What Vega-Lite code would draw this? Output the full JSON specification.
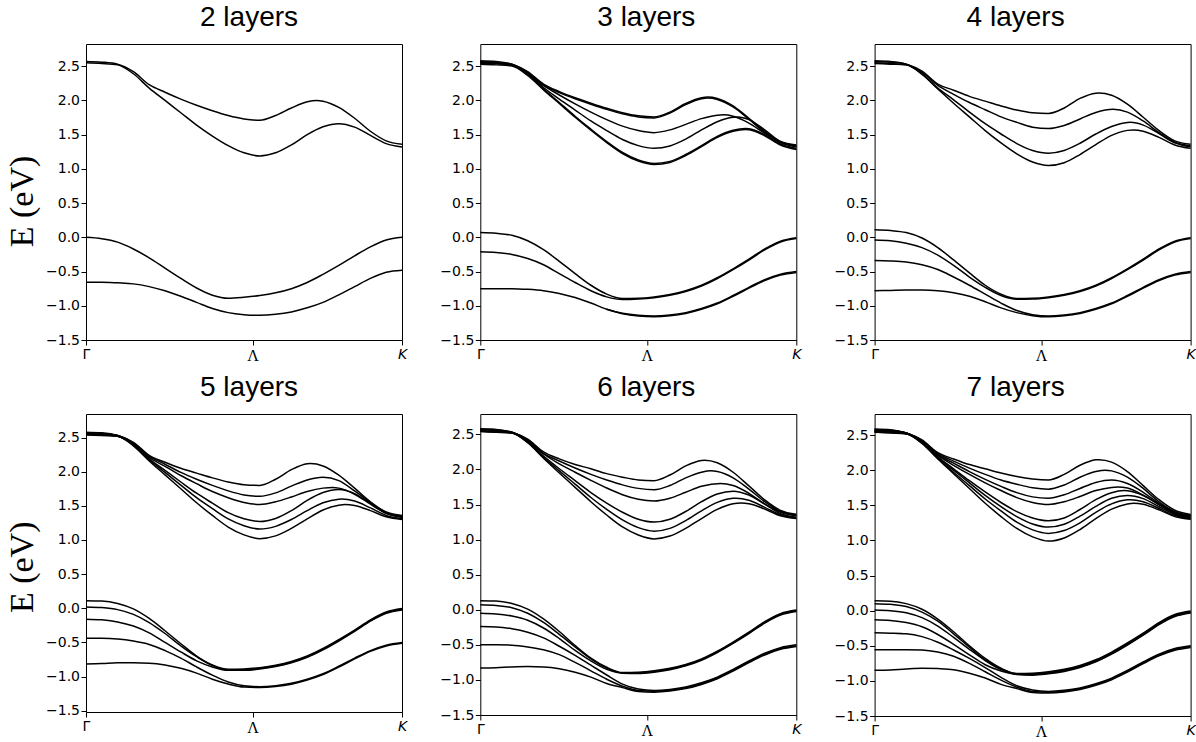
{
"$schema": "https://vega.github.io/schema/vega-lite/v6.json",
"background": "white",
"padding": {"left": 5, "top": 3, "right": 0, "bottom": 2},
"config": {
  "view": {"stroke": "#000", "strokeWidth": 1},
  "axis": {"grid": false, "domain": false, "tickColor": "#000", "tickWidth": 1, "tickSize": 5, "labelColor": "#000", "labelFont": "DejaVu Sans", "labelFontSize": 14, "titleColor": "#000"},
  "title": {"font": "Liberation Sans", "fontSize": 28, "fontWeight": "normal", "color": "#000", "anchor": "middle", "baseline": "alphabetic"},
  "line": {"color": "#000", "strokeWidth": 1.5, "interpolate": "monotone"}
},
"data": {"values": [
{"l":2,"b":"c1","x":0,"y":2.57},{"l":2,"b":"c1","x":0.05,"y":2.56},{"l":2,"b":"c1","x":0.1,"y":2.53},{"l":2,"b":"c1","x":0.15,"y":2.42},{"l":2,"b":"c1","x":0.2,"y":2.23},{"l":2,"b":"c1","x":0.25,"y":2.12},{"l":2,"b":"c1","x":0.3,"y":2.02},{"l":2,"b":"c1","x":0.35,"y":1.93},{"l":2,"b":"c1","x":0.4,"y":1.85},{"l":2,"b":"c1","x":0.45,"y":1.78},{"l":2,"b":"c1","x":0.5,"y":1.73},{"l":2,"b":"c1","x":0.55,"y":1.71},{"l":2,"b":"c1","x":0.6,"y":1.78},{"l":2,"b":"c1","x":0.65,"y":1.89},{"l":2,"b":"c1","x":0.7,"y":1.98},{"l":2,"b":"c1","x":0.73,"y":2.0},{"l":2,"b":"c1","x":0.75,"y":1.99},{"l":2,"b":"c1","x":0.8,"y":1.9},{"l":2,"b":"c1","x":0.85,"y":1.74},{"l":2,"b":"c1","x":0.9,"y":1.55},{"l":2,"b":"c1","x":0.95,"y":1.41},{"l":2,"b":"c1","x":1,"y":1.36},
{"l":2,"b":"c2","x":0,"y":2.55},{"l":2,"b":"c2","x":0.05,"y":2.54},{"l":2,"b":"c2","x":0.1,"y":2.52},{"l":2,"b":"c2","x":0.15,"y":2.39},{"l":2,"b":"c2","x":0.2,"y":2.18},{"l":2,"b":"c2","x":0.25,"y":2.0},{"l":2,"b":"c2","x":0.3,"y":1.82},{"l":2,"b":"c2","x":0.35,"y":1.64},{"l":2,"b":"c2","x":0.4,"y":1.48},{"l":2,"b":"c2","x":0.45,"y":1.34},{"l":2,"b":"c2","x":0.5,"y":1.235},{"l":2,"b":"c2","x":0.55,"y":1.19},{"l":2,"b":"c2","x":0.6,"y":1.235},{"l":2,"b":"c2","x":0.65,"y":1.35},{"l":2,"b":"c2","x":0.7,"y":1.5},{"l":2,"b":"c2","x":0.75,"y":1.615},{"l":2,"b":"c2","x":0.8,"y":1.66},{"l":2,"b":"c2","x":0.85,"y":1.61},{"l":2,"b":"c2","x":0.9,"y":1.49},{"l":2,"b":"c2","x":0.95,"y":1.37},{"l":2,"b":"c2","x":1,"y":1.32},
{"l":2,"b":"v1","x":0,"y":0},{"l":2,"b":"v1","x":0.05,"y":-0.02},{"l":2,"b":"v1","x":0.1,"y":-0.07},{"l":2,"b":"v1","x":0.15,"y":-0.17},{"l":2,"b":"v1","x":0.2,"y":-0.3},{"l":2,"b":"v1","x":0.25,"y":-0.45},{"l":2,"b":"v1","x":0.3,"y":-0.6},{"l":2,"b":"v1","x":0.35,"y":-0.74},{"l":2,"b":"v1","x":0.4,"y":-0.845},{"l":2,"b":"v1","x":0.45,"y":-0.89},{"l":2,"b":"v1","x":0.5,"y":-0.875},{"l":2,"b":"v1","x":0.55,"y":-0.85},{"l":2,"b":"v1","x":0.6,"y":-0.81},{"l":2,"b":"v1","x":0.65,"y":-0.75},{"l":2,"b":"v1","x":0.7,"y":-0.66},{"l":2,"b":"v1","x":0.75,"y":-0.54},{"l":2,"b":"v1","x":0.8,"y":-0.41},{"l":2,"b":"v1","x":0.85,"y":-0.27},{"l":2,"b":"v1","x":0.9,"y":-0.14},{"l":2,"b":"v1","x":0.95,"y":-0.04},{"l":2,"b":"v1","x":1,"y":0},
{"l":2,"b":"v2","x":0,"y":-0.655},{"l":2,"b":"v2","x":0.05,"y":-0.655},{"l":2,"b":"v2","x":0.1,"y":-0.665},{"l":2,"b":"v2","x":0.15,"y":-0.68},{"l":2,"b":"v2","x":0.2,"y":-0.72},{"l":2,"b":"v2","x":0.25,"y":-0.78},{"l":2,"b":"v2","x":0.3,"y":-0.86},{"l":2,"b":"v2","x":0.35,"y":-0.95},{"l":2,"b":"v2","x":0.4,"y":-1.04},{"l":2,"b":"v2","x":0.45,"y":-1.1},{"l":2,"b":"v2","x":0.5,"y":-1.13},{"l":2,"b":"v2","x":0.55,"y":-1.14},{"l":2,"b":"v2","x":0.6,"y":-1.125},{"l":2,"b":"v2","x":0.65,"y":-1.09},{"l":2,"b":"v2","x":0.7,"y":-1.03},{"l":2,"b":"v2","x":0.75,"y":-0.95},{"l":2,"b":"v2","x":0.8,"y":-0.84},{"l":2,"b":"v2","x":0.85,"y":-0.72},{"l":2,"b":"v2","x":0.9,"y":-0.6},{"l":2,"b":"v2","x":0.95,"y":-0.51},{"l":2,"b":"v2","x":1,"y":-0.48},

{"l":3,"b":"c1","x":0,"y":2.58},{"l":3,"b":"c1","x":0.05,"y":2.57},{"l":3,"b":"c1","x":0.1,"y":2.53},{"l":3,"b":"c1","x":0.15,"y":2.42},{"l":3,"b":"c1","x":0.2,"y":2.24},{"l":3,"b":"c1","x":0.25,"y":2.13},{"l":3,"b":"c1","x":0.3,"y":2.04},{"l":3,"b":"c1","x":0.35,"y":1.96},{"l":3,"b":"c1","x":0.4,"y":1.885},{"l":3,"b":"c1","x":0.45,"y":1.82},{"l":3,"b":"c1","x":0.5,"y":1.775},{"l":3,"b":"c1","x":0.55,"y":1.76},{"l":3,"b":"c1","x":0.6,"y":1.83},{"l":3,"b":"c1","x":0.65,"y":1.955},{"l":3,"b":"c1","x":0.7,"y":2.04},{"l":3,"b":"c1","x":0.72,"y":2.05},{"l":3,"b":"c1","x":0.75,"y":2.03},{"l":3,"b":"c1","x":0.8,"y":1.92},{"l":3,"b":"c1","x":0.85,"y":1.74},{"l":3,"b":"c1","x":0.9,"y":1.55},{"l":3,"b":"c1","x":0.95,"y":1.4},{"l":3,"b":"c1","x":1,"y":1.35},
{"l":3,"b":"c1d","x":0,"y":2.565},{"l":3,"b":"c1d","x":0.05,"y":2.555},{"l":3,"b":"c1d","x":0.1,"y":2.515},{"l":3,"b":"c1d","x":0.15,"y":2.405},{"l":3,"b":"c1d","x":0.2,"y":2.225},{"l":3,"b":"c1d","x":0.25,"y":2.115},{"l":3,"b":"c1d","x":0.3,"y":2.025},{"l":3,"b":"c1d","x":0.35,"y":1.945},{"l":3,"b":"c1d","x":0.4,"y":1.87},{"l":3,"b":"c1d","x":0.45,"y":1.805},{"l":3,"b":"c1d","x":0.5,"y":1.76},{"l":3,"b":"c1d","x":0.55,"y":1.745},{"l":3,"b":"c1d","x":0.6,"y":1.815},{"l":3,"b":"c1d","x":0.65,"y":1.94},{"l":3,"b":"c1d","x":0.7,"y":2.025},{"l":3,"b":"c1d","x":0.72,"y":2.035},{"l":3,"b":"c1d","x":0.75,"y":2.015},{"l":3,"b":"c1d","x":0.8,"y":1.905},{"l":3,"b":"c1d","x":0.85,"y":1.725},{"l":3,"b":"c1d","x":0.9,"y":1.535},{"l":3,"b":"c1d","x":0.95,"y":1.385},{"l":3,"b":"c1d","x":1,"y":1.335},
{"l":3,"b":"c2","x":0,"y":2.565},{"l":3,"b":"c2","x":0.05,"y":2.555},{"l":3,"b":"c2","x":0.1,"y":2.53},{"l":3,"b":"c2","x":0.15,"y":2.41},{"l":3,"b":"c2","x":0.2,"y":2.22},{"l":3,"b":"c2","x":0.25,"y":2.08},{"l":3,"b":"c2","x":0.3,"y":1.95},{"l":3,"b":"c2","x":0.35,"y":1.83},{"l":3,"b":"c2","x":0.4,"y":1.72},{"l":3,"b":"c2","x":0.45,"y":1.625},{"l":3,"b":"c2","x":0.5,"y":1.56},{"l":3,"b":"c2","x":0.55,"y":1.53},{"l":3,"b":"c2","x":0.6,"y":1.57},{"l":3,"b":"c2","x":0.65,"y":1.65},{"l":3,"b":"c2","x":0.7,"y":1.735},{"l":3,"b":"c2","x":0.75,"y":1.785},{"l":3,"b":"c2","x":0.77,"y":1.79},{"l":3,"b":"c2","x":0.8,"y":1.77},{"l":3,"b":"c2","x":0.85,"y":1.67},{"l":3,"b":"c2","x":0.9,"y":1.52},{"l":3,"b":"c2","x":0.95,"y":1.39},{"l":3,"b":"c2","x":1,"y":1.34},
{"l":3,"b":"c3","x":0,"y":2.555},{"l":3,"b":"c3","x":0.05,"y":2.545},{"l":3,"b":"c3","x":0.1,"y":2.52},{"l":3,"b":"c3","x":0.15,"y":2.4},{"l":3,"b":"c3","x":0.2,"y":2.19},{"l":3,"b":"c3","x":0.25,"y":2.02},{"l":3,"b":"c3","x":0.3,"y":1.86},{"l":3,"b":"c3","x":0.35,"y":1.7},{"l":3,"b":"c3","x":0.4,"y":1.56},{"l":3,"b":"c3","x":0.45,"y":1.43},{"l":3,"b":"c3","x":0.5,"y":1.34},{"l":3,"b":"c3","x":0.55,"y":1.3},{"l":3,"b":"c3","x":0.6,"y":1.335},{"l":3,"b":"c3","x":0.65,"y":1.435},{"l":3,"b":"c3","x":0.7,"y":1.57},{"l":3,"b":"c3","x":0.75,"y":1.69},{"l":3,"b":"c3","x":0.8,"y":1.755},{"l":3,"b":"c3","x":0.815,"y":1.76},{"l":3,"b":"c3","x":0.85,"y":1.72},{"l":3,"b":"c3","x":0.9,"y":1.57},{"l":3,"b":"c3","x":0.95,"y":1.395},{"l":3,"b":"c3","x":1,"y":1.32},
{"l":3,"b":"c4","x":0,"y":2.545},{"l":3,"b":"c4","x":0.05,"y":2.535},{"l":3,"b":"c4","x":0.1,"y":2.52},{"l":3,"b":"c4","x":0.15,"y":2.38},{"l":3,"b":"c4","x":0.2,"y":2.17},{"l":3,"b":"c4","x":0.25,"y":1.97},{"l":3,"b":"c4","x":0.3,"y":1.77},{"l":3,"b":"c4","x":0.35,"y":1.58},{"l":3,"b":"c4","x":0.4,"y":1.4},{"l":3,"b":"c4","x":0.45,"y":1.24},{"l":3,"b":"c4","x":0.5,"y":1.13},{"l":3,"b":"c4","x":0.55,"y":1.08},{"l":3,"b":"c4","x":0.6,"y":1.11},{"l":3,"b":"c4","x":0.65,"y":1.21},{"l":3,"b":"c4","x":0.7,"y":1.34},{"l":3,"b":"c4","x":0.75,"y":1.475},{"l":3,"b":"c4","x":0.8,"y":1.565},{"l":3,"b":"c4","x":0.84,"y":1.59},{"l":3,"b":"c4","x":0.85,"y":1.587},{"l":3,"b":"c4","x":0.9,"y":1.5},{"l":3,"b":"c4","x":0.95,"y":1.365},{"l":3,"b":"c4","x":1,"y":1.3},
{"l":3,"b":"c4d","x":0,"y":2.53},{"l":3,"b":"c4d","x":0.05,"y":2.52},{"l":3,"b":"c4d","x":0.1,"y":2.505},{"l":3,"b":"c4d","x":0.15,"y":2.365},{"l":3,"b":"c4d","x":0.2,"y":2.155},{"l":3,"b":"c4d","x":0.25,"y":1.955},{"l":3,"b":"c4d","x":0.3,"y":1.755},{"l":3,"b":"c4d","x":0.35,"y":1.565},{"l":3,"b":"c4d","x":0.4,"y":1.385},{"l":3,"b":"c4d","x":0.45,"y":1.225},{"l":3,"b":"c4d","x":0.5,"y":1.115},{"l":3,"b":"c4d","x":0.55,"y":1.065},{"l":3,"b":"c4d","x":0.6,"y":1.095},{"l":3,"b":"c4d","x":0.65,"y":1.195},{"l":3,"b":"c4d","x":0.7,"y":1.325},{"l":3,"b":"c4d","x":0.75,"y":1.46},{"l":3,"b":"c4d","x":0.8,"y":1.55},{"l":3,"b":"c4d","x":0.84,"y":1.575},{"l":3,"b":"c4d","x":0.85,"y":1.572},{"l":3,"b":"c4d","x":0.9,"y":1.485},{"l":3,"b":"c4d","x":0.95,"y":1.35},{"l":3,"b":"c4d","x":1,"y":1.285},
{"l":3,"b":"v1","x":0,"y":0.07},{"l":3,"b":"v1","x":0.05,"y":0.06},{"l":3,"b":"v1","x":0.1,"y":0.03},{"l":3,"b":"v1","x":0.15,"y":-0.05},{"l":3,"b":"v1","x":0.2,"y":-0.18},{"l":3,"b":"v1","x":0.25,"y":-0.35},{"l":3,"b":"v1","x":0.3,"y":-0.53},{"l":3,"b":"v1","x":0.35,"y":-0.7},{"l":3,"b":"v1","x":0.4,"y":-0.83},{"l":3,"b":"v1","x":0.45,"y":-0.895},{"l":3,"b":"v1","x":0.5,"y":-0.89},{"l":3,"b":"v1","x":0.55,"y":-0.87},{"l":3,"b":"v1","x":0.6,"y":-0.835},{"l":3,"b":"v1","x":0.65,"y":-0.78},{"l":3,"b":"v1","x":0.7,"y":-0.7},{"l":3,"b":"v1","x":0.75,"y":-0.59},{"l":3,"b":"v1","x":0.8,"y":-0.46},{"l":3,"b":"v1","x":0.85,"y":-0.32},{"l":3,"b":"v1","x":0.9,"y":-0.17},{"l":3,"b":"v1","x":0.95,"y":-0.055},{"l":3,"b":"v1","x":1,"y":-0.005},
{"l":3,"b":"v2","x":0,"y":-0.21},{"l":3,"b":"v2","x":0.05,"y":-0.22},{"l":3,"b":"v2","x":0.1,"y":-0.25},{"l":3,"b":"v2","x":0.15,"y":-0.31},{"l":3,"b":"v2","x":0.2,"y":-0.4},{"l":3,"b":"v2","x":0.25,"y":-0.53},{"l":3,"b":"v2","x":0.3,"y":-0.66},{"l":3,"b":"v2","x":0.35,"y":-0.78},{"l":3,"b":"v2","x":0.4,"y":-0.87},{"l":3,"b":"v2","x":0.45,"y":-0.91},{"l":3,"b":"v2","x":0.5,"y":-0.902},{"l":3,"b":"v2","x":0.55,"y":-0.882},{"l":3,"b":"v2","x":0.6,"y":-0.847},{"l":3,"b":"v2","x":0.65,"y":-0.792},{"l":3,"b":"v2","x":0.7,"y":-0.712},{"l":3,"b":"v2","x":0.75,"y":-0.602},{"l":3,"b":"v2","x":0.8,"y":-0.472},{"l":3,"b":"v2","x":0.85,"y":-0.332},{"l":3,"b":"v2","x":0.9,"y":-0.182},{"l":3,"b":"v2","x":0.95,"y":-0.067},{"l":3,"b":"v2","x":1,"y":-0.017},
{"l":3,"b":"v3","x":0,"y":-0.75},{"l":3,"b":"v3","x":0.05,"y":-0.75},{"l":3,"b":"v3","x":0.1,"y":-0.75},{"l":3,"b":"v3","x":0.15,"y":-0.76},{"l":3,"b":"v3","x":0.2,"y":-0.78},{"l":3,"b":"v3","x":0.25,"y":-0.82},{"l":3,"b":"v3","x":0.3,"y":-0.88},{"l":3,"b":"v3","x":0.35,"y":-0.96},{"l":3,"b":"v3","x":0.4,"y":-1.05},{"l":3,"b":"v3","x":0.45,"y":-1.11},{"l":3,"b":"v3","x":0.5,"y":-1.14},{"l":3,"b":"v3","x":0.55,"y":-1.15},{"l":3,"b":"v3","x":0.6,"y":-1.135},{"l":3,"b":"v3","x":0.65,"y":-1.1},{"l":3,"b":"v3","x":0.7,"y":-1.04},{"l":3,"b":"v3","x":0.75,"y":-0.96},{"l":3,"b":"v3","x":0.8,"y":-0.85},{"l":3,"b":"v3","x":0.85,"y":-0.73},{"l":3,"b":"v3","x":0.9,"y":-0.62},{"l":3,"b":"v3","x":0.95,"y":-0.54},{"l":3,"b":"v3","x":1,"y":-0.5},
{"l":3,"b":"v4","x":0.4,"y":-1.05},{"l":3,"b":"v4","x":0.45,"y":-1.115},{"l":3,"b":"v4","x":0.5,"y":-1.15},{"l":3,"b":"v4","x":0.55,"y":-1.162},{"l":3,"b":"v4","x":0.6,"y":-1.147},{"l":3,"b":"v4","x":0.65,"y":-1.112},{"l":3,"b":"v4","x":0.7,"y":-1.052},{"l":3,"b":"v4","x":0.75,"y":-0.972},{"l":3,"b":"v4","x":0.8,"y":-0.862},{"l":3,"b":"v4","x":0.85,"y":-0.742},{"l":3,"b":"v4","x":0.9,"y":-0.632},{"l":3,"b":"v4","x":0.95,"y":-0.552},{"l":3,"b":"v4","x":1,"y":-0.512},

{"l":4,"b":"c1","x":0,"y":2.58},{"l":4,"b":"c1","x":0.05,"y":2.57},{"l":4,"b":"c1","x":0.1,"y":2.53},{"l":4,"b":"c1","x":0.15,"y":2.43},{"l":4,"b":"c1","x":0.2,"y":2.24},{"l":4,"b":"c1","x":0.25,"y":2.15},{"l":4,"b":"c1","x":0.3,"y":2.06},{"l":4,"b":"c1","x":0.35,"y":1.99},{"l":4,"b":"c1","x":0.4,"y":1.92},{"l":4,"b":"c1","x":0.45,"y":1.86},{"l":4,"b":"c1","x":0.5,"y":1.82},{"l":4,"b":"c1","x":0.55,"y":1.81},{"l":4,"b":"c1","x":0.6,"y":1.89},{"l":4,"b":"c1","x":0.65,"y":2.03},{"l":4,"b":"c1","x":0.7,"y":2.107},{"l":4,"b":"c1","x":0.71,"y":2.11},{"l":4,"b":"c1","x":0.75,"y":2.075},{"l":4,"b":"c1","x":0.8,"y":1.945},{"l":4,"b":"c1","x":0.85,"y":1.755},{"l":4,"b":"c1","x":0.9,"y":1.56},{"l":4,"b":"c1","x":0.95,"y":1.41},{"l":4,"b":"c1","x":1,"y":1.36},
{"l":4,"b":"c2","x":0,"y":2.57},{"l":4,"b":"c2","x":0.05,"y":2.56},{"l":4,"b":"c2","x":0.1,"y":2.53},{"l":4,"b":"c2","x":0.15,"y":2.41},{"l":4,"b":"c2","x":0.2,"y":2.22},{"l":4,"b":"c2","x":0.25,"y":2.09},{"l":4,"b":"c2","x":0.3,"y":1.97},{"l":4,"b":"c2","x":0.35,"y":1.865},{"l":4,"b":"c2","x":0.4,"y":1.76},{"l":4,"b":"c2","x":0.45,"y":1.68},{"l":4,"b":"c2","x":0.5,"y":1.61},{"l":4,"b":"c2","x":0.55,"y":1.59},{"l":4,"b":"c2","x":0.6,"y":1.635},{"l":4,"b":"c2","x":0.65,"y":1.73},{"l":4,"b":"c2","x":0.7,"y":1.825},{"l":4,"b":"c2","x":0.755,"y":1.87},{"l":4,"b":"c2","x":0.8,"y":1.83},{"l":4,"b":"c2","x":0.85,"y":1.7},{"l":4,"b":"c2","x":0.9,"y":1.53},{"l":4,"b":"c2","x":0.95,"y":1.39},{"l":4,"b":"c2","x":1,"y":1.34},
{"l":4,"b":"c3","x":0,"y":2.55},{"l":4,"b":"c3","x":0.05,"y":2.54},{"l":4,"b":"c3","x":0.1,"y":2.52},{"l":4,"b":"c3","x":0.15,"y":2.39},{"l":4,"b":"c3","x":0.2,"y":2.18},{"l":4,"b":"c3","x":0.25,"y":2.01},{"l":4,"b":"c3","x":0.3,"y":1.83},{"l":4,"b":"c3","x":0.35,"y":1.66},{"l":4,"b":"c3","x":0.4,"y":1.51},{"l":4,"b":"c3","x":0.45,"y":1.37},{"l":4,"b":"c3","x":0.5,"y":1.27},{"l":4,"b":"c3","x":0.55,"y":1.23},{"l":4,"b":"c3","x":0.6,"y":1.27},{"l":4,"b":"c3","x":0.65,"y":1.375},{"l":4,"b":"c3","x":0.7,"y":1.51},{"l":4,"b":"c3","x":0.75,"y":1.62},{"l":4,"b":"c3","x":0.8,"y":1.678},{"l":4,"b":"c3","x":0.81,"y":1.68},{"l":4,"b":"c3","x":0.85,"y":1.64},{"l":4,"b":"c3","x":0.9,"y":1.515},{"l":4,"b":"c3","x":0.95,"y":1.38},{"l":4,"b":"c3","x":1,"y":1.32},
{"l":4,"b":"c4","x":0,"y":2.54},{"l":4,"b":"c4","x":0.05,"y":2.53},{"l":4,"b":"c4","x":0.1,"y":2.52},{"l":4,"b":"c4","x":0.15,"y":2.38},{"l":4,"b":"c4","x":0.2,"y":2.17},{"l":4,"b":"c4","x":0.25,"y":1.96},{"l":4,"b":"c4","x":0.3,"y":1.76},{"l":4,"b":"c4","x":0.35,"y":1.56},{"l":4,"b":"c4","x":0.4,"y":1.38},{"l":4,"b":"c4","x":0.45,"y":1.22},{"l":4,"b":"c4","x":0.5,"y":1.1},{"l":4,"b":"c4","x":0.55,"y":1.05},{"l":4,"b":"c4","x":0.6,"y":1.09},{"l":4,"b":"c4","x":0.65,"y":1.21},{"l":4,"b":"c4","x":0.7,"y":1.355},{"l":4,"b":"c4","x":0.75,"y":1.49},{"l":4,"b":"c4","x":0.8,"y":1.563},{"l":4,"b":"c4","x":0.82,"y":1.57},{"l":4,"b":"c4","x":0.85,"y":1.55},{"l":4,"b":"c4","x":0.9,"y":1.46},{"l":4,"b":"c4","x":0.95,"y":1.35},{"l":4,"b":"c4","x":1,"y":1.3},
{"l":4,"b":"v1","x":0,"y":0.11},{"l":4,"b":"v1","x":0.05,"y":0.1},{"l":4,"b":"v1","x":0.1,"y":0.07},{"l":4,"b":"v1","x":0.15,"y":-0.01},{"l":4,"b":"v1","x":0.2,"y":-0.15},{"l":4,"b":"v1","x":0.25,"y":-0.33},{"l":4,"b":"v1","x":0.3,"y":-0.52},{"l":4,"b":"v1","x":0.35,"y":-0.7},{"l":4,"b":"v1","x":0.4,"y":-0.83},{"l":4,"b":"v1","x":0.45,"y":-0.895},{"l":4,"b":"v1","x":0.5,"y":-0.89},{"l":4,"b":"v1","x":0.55,"y":-0.87},{"l":4,"b":"v1","x":0.6,"y":-0.835},{"l":4,"b":"v1","x":0.65,"y":-0.78},{"l":4,"b":"v1","x":0.7,"y":-0.7},{"l":4,"b":"v1","x":0.75,"y":-0.59},{"l":4,"b":"v1","x":0.8,"y":-0.46},{"l":4,"b":"v1","x":0.85,"y":-0.32},{"l":4,"b":"v1","x":0.9,"y":-0.17},{"l":4,"b":"v1","x":0.95,"y":-0.055},{"l":4,"b":"v1","x":1,"y":-0.005},
{"l":4,"b":"v2","x":0,"y":-0.04},{"l":4,"b":"v2","x":0.05,"y":-0.05},{"l":4,"b":"v2","x":0.1,"y":-0.085},{"l":4,"b":"v2","x":0.15,"y":-0.15},{"l":4,"b":"v2","x":0.2,"y":-0.26},{"l":4,"b":"v2","x":0.25,"y":-0.41},{"l":4,"b":"v2","x":0.3,"y":-0.58},{"l":4,"b":"v2","x":0.35,"y":-0.73},{"l":4,"b":"v2","x":0.4,"y":-0.85},{"l":4,"b":"v2","x":0.45,"y":-0.905},{"l":4,"b":"v2","x":0.5,"y":-0.902},{"l":4,"b":"v2","x":0.55,"y":-0.882},{"l":4,"b":"v2","x":0.6,"y":-0.847},{"l":4,"b":"v2","x":0.65,"y":-0.792},{"l":4,"b":"v2","x":0.7,"y":-0.712},{"l":4,"b":"v2","x":0.75,"y":-0.602},{"l":4,"b":"v2","x":0.8,"y":-0.472},{"l":4,"b":"v2","x":0.85,"y":-0.332},{"l":4,"b":"v2","x":0.9,"y":-0.182},{"l":4,"b":"v2","x":0.95,"y":-0.067},{"l":4,"b":"v2","x":1,"y":-0.017},
{"l":4,"b":"v3","x":0,"y":-0.34},{"l":4,"b":"v3","x":0.05,"y":-0.345},{"l":4,"b":"v3","x":0.1,"y":-0.36},{"l":4,"b":"v3","x":0.15,"y":-0.4},{"l":4,"b":"v3","x":0.2,"y":-0.47},{"l":4,"b":"v3","x":0.25,"y":-0.58},{"l":4,"b":"v3","x":0.3,"y":-0.7},{"l":4,"b":"v3","x":0.35,"y":-0.83},{"l":4,"b":"v3","x":0.4,"y":-0.96},{"l":4,"b":"v3","x":0.45,"y":-1.07},{"l":4,"b":"v3","x":0.5,"y":-1.13},{"l":4,"b":"v3","x":0.55,"y":-1.15},{"l":4,"b":"v3","x":0.6,"y":-1.135},{"l":4,"b":"v3","x":0.65,"y":-1.1},{"l":4,"b":"v3","x":0.7,"y":-1.04},{"l":4,"b":"v3","x":0.75,"y":-0.96},{"l":4,"b":"v3","x":0.8,"y":-0.85},{"l":4,"b":"v3","x":0.85,"y":-0.73},{"l":4,"b":"v3","x":0.9,"y":-0.62},{"l":4,"b":"v3","x":0.95,"y":-0.54},{"l":4,"b":"v3","x":1,"y":-0.5},
{"l":4,"b":"v4","x":0,"y":-0.78},{"l":4,"b":"v4","x":0.05,"y":-0.775},{"l":4,"b":"v4","x":0.1,"y":-0.77},{"l":4,"b":"v4","x":0.15,"y":-0.77},{"l":4,"b":"v4","x":0.2,"y":-0.78},{"l":4,"b":"v4","x":0.25,"y":-0.81},{"l":4,"b":"v4","x":0.3,"y":-0.86},{"l":4,"b":"v4","x":0.35,"y":-0.94},{"l":4,"b":"v4","x":0.4,"y":-1.03},{"l":4,"b":"v4","x":0.45,"y":-1.1},{"l":4,"b":"v4","x":0.5,"y":-1.145},{"l":4,"b":"v4","x":0.55,"y":-1.162},{"l":4,"b":"v4","x":0.6,"y":-1.147},{"l":4,"b":"v4","x":0.65,"y":-1.112},{"l":4,"b":"v4","x":0.7,"y":-1.052},{"l":4,"b":"v4","x":0.75,"y":-0.972},{"l":4,"b":"v4","x":0.8,"y":-0.862},{"l":4,"b":"v4","x":0.85,"y":-0.742},{"l":4,"b":"v4","x":0.9,"y":-0.632},{"l":4,"b":"v4","x":0.95,"y":-0.552},{"l":4,"b":"v4","x":1,"y":-0.512},

{"l":5,"b":"c1","x":0,"y":2.58},{"l":5,"b":"c1","x":0.05,"y":2.57},{"l":5,"b":"c1","x":0.1,"y":2.53},{"l":5,"b":"c1","x":0.15,"y":2.43},{"l":5,"b":"c1","x":0.2,"y":2.24},{"l":5,"b":"c1","x":0.25,"y":2.14},{"l":5,"b":"c1","x":0.3,"y":2.05},{"l":5,"b":"c1","x":0.35,"y":1.98},{"l":5,"b":"c1","x":0.4,"y":1.91},{"l":5,"b":"c1","x":0.45,"y":1.85},{"l":5,"b":"c1","x":0.5,"y":1.81},{"l":5,"b":"c1","x":0.55,"y":1.8},{"l":5,"b":"c1","x":0.6,"y":1.89},{"l":5,"b":"c1","x":0.65,"y":2.03},{"l":5,"b":"c1","x":0.7,"y":2.117},{"l":5,"b":"c1","x":0.71,"y":2.12},{"l":5,"b":"c1","x":0.75,"y":2.085},{"l":5,"b":"c1","x":0.8,"y":1.95},{"l":5,"b":"c1","x":0.85,"y":1.76},{"l":5,"b":"c1","x":0.9,"y":1.56},{"l":5,"b":"c1","x":0.95,"y":1.41},{"l":5,"b":"c1","x":1,"y":1.36},
{"l":5,"b":"c2","x":0,"y":2.57},{"l":5,"b":"c2","x":0.05,"y":2.56},{"l":5,"b":"c2","x":0.1,"y":2.53},{"l":5,"b":"c2","x":0.15,"y":2.42},{"l":5,"b":"c2","x":0.2,"y":2.23},{"l":5,"b":"c2","x":0.25,"y":2.11},{"l":5,"b":"c2","x":0.3,"y":1.99},{"l":5,"b":"c2","x":0.35,"y":1.89},{"l":5,"b":"c2","x":0.4,"y":1.8},{"l":5,"b":"c2","x":0.45,"y":1.72},{"l":5,"b":"c2","x":0.5,"y":1.66},{"l":5,"b":"c2","x":0.55,"y":1.64},{"l":5,"b":"c2","x":0.6,"y":1.69},{"l":5,"b":"c2","x":0.65,"y":1.79},{"l":5,"b":"c2","x":0.7,"y":1.88},{"l":5,"b":"c2","x":0.75,"y":1.92},{"l":5,"b":"c2","x":0.8,"y":1.87},{"l":5,"b":"c2","x":0.85,"y":1.72},{"l":5,"b":"c2","x":0.9,"y":1.55},{"l":5,"b":"c2","x":0.95,"y":1.4},{"l":5,"b":"c2","x":1,"y":1.35},
{"l":5,"b":"c3","x":0,"y":2.565},{"l":5,"b":"c3","x":0.05,"y":2.555},{"l":5,"b":"c3","x":0.1,"y":2.53},{"l":5,"b":"c3","x":0.15,"y":2.41},{"l":5,"b":"c3","x":0.2,"y":2.21},{"l":5,"b":"c3","x":0.25,"y":2.08},{"l":5,"b":"c3","x":0.3,"y":1.945},{"l":5,"b":"c3","x":0.35,"y":1.825},{"l":5,"b":"c3","x":0.4,"y":1.71},{"l":5,"b":"c3","x":0.45,"y":1.62},{"l":5,"b":"c3","x":0.5,"y":1.55},{"l":5,"b":"c3","x":0.55,"y":1.52},{"l":5,"b":"c3","x":0.6,"y":1.56},{"l":5,"b":"c3","x":0.65,"y":1.63},{"l":5,"b":"c3","x":0.7,"y":1.71},{"l":5,"b":"c3","x":0.75,"y":1.76},{"l":5,"b":"c3","x":0.78,"y":1.77},{"l":5,"b":"c3","x":0.8,"y":1.76},{"l":5,"b":"c3","x":0.85,"y":1.67},{"l":5,"b":"c3","x":0.9,"y":1.525},{"l":5,"b":"c3","x":0.95,"y":1.39},{"l":5,"b":"c3","x":1,"y":1.34},
{"l":5,"b":"c4","x":0,"y":2.555},{"l":5,"b":"c4","x":0.05,"y":2.545},{"l":5,"b":"c4","x":0.1,"y":2.52},{"l":5,"b":"c4","x":0.15,"y":2.4},{"l":5,"b":"c4","x":0.2,"y":2.19},{"l":5,"b":"c4","x":0.25,"y":2.02},{"l":5,"b":"c4","x":0.3,"y":1.85},{"l":5,"b":"c4","x":0.35,"y":1.685},{"l":5,"b":"c4","x":0.4,"y":1.54},{"l":5,"b":"c4","x":0.45,"y":1.4},{"l":5,"b":"c4","x":0.5,"y":1.31},{"l":5,"b":"c4","x":0.55,"y":1.27},{"l":5,"b":"c4","x":0.6,"y":1.315},{"l":5,"b":"c4","x":0.65,"y":1.43},{"l":5,"b":"c4","x":0.7,"y":1.58},{"l":5,"b":"c4","x":0.75,"y":1.695},{"l":5,"b":"c4","x":0.8,"y":1.74},{"l":5,"b":"c4","x":0.85,"y":1.68},{"l":5,"b":"c4","x":0.9,"y":1.535},{"l":5,"b":"c4","x":0.95,"y":1.39},{"l":5,"b":"c4","x":1,"y":1.33},
{"l":5,"b":"c5","x":0,"y":2.55},{"l":5,"b":"c5","x":0.05,"y":2.54},{"l":5,"b":"c5","x":0.1,"y":2.52},{"l":5,"b":"c5","x":0.15,"y":2.39},{"l":5,"b":"c5","x":0.2,"y":2.18},{"l":5,"b":"c5","x":0.25,"y":1.99},{"l":5,"b":"c5","x":0.3,"y":1.805},{"l":5,"b":"c5","x":0.35,"y":1.62},{"l":5,"b":"c5","x":0.4,"y":1.46},{"l":5,"b":"c5","x":0.45,"y":1.31},{"l":5,"b":"c5","x":0.5,"y":1.21},{"l":5,"b":"c5","x":0.55,"y":1.16},{"l":5,"b":"c5","x":0.6,"y":1.2},{"l":5,"b":"c5","x":0.65,"y":1.3},{"l":5,"b":"c5","x":0.7,"y":1.43},{"l":5,"b":"c5","x":0.75,"y":1.545},{"l":5,"b":"c5","x":0.8,"y":1.598},{"l":5,"b":"c5","x":0.81,"y":1.6},{"l":5,"b":"c5","x":0.85,"y":1.57},{"l":5,"b":"c5","x":0.9,"y":1.47},{"l":5,"b":"c5","x":0.95,"y":1.36},{"l":5,"b":"c5","x":1,"y":1.31},
{"l":5,"b":"c6","x":0,"y":2.54},{"l":5,"b":"c6","x":0.05,"y":2.53},{"l":5,"b":"c6","x":0.1,"y":2.52},{"l":5,"b":"c6","x":0.15,"y":2.38},{"l":5,"b":"c6","x":0.2,"y":2.16},{"l":5,"b":"c6","x":0.25,"y":1.955},{"l":5,"b":"c6","x":0.3,"y":1.75},{"l":5,"b":"c6","x":0.35,"y":1.545},{"l":5,"b":"c6","x":0.4,"y":1.36},{"l":5,"b":"c6","x":0.45,"y":1.19},{"l":5,"b":"c6","x":0.5,"y":1.075},{"l":5,"b":"c6","x":0.55,"y":1.02},{"l":5,"b":"c6","x":0.6,"y":1.06},{"l":5,"b":"c6","x":0.65,"y":1.17},{"l":5,"b":"c6","x":0.7,"y":1.31},{"l":5,"b":"c6","x":0.75,"y":1.44},{"l":5,"b":"c6","x":0.8,"y":1.51},{"l":5,"b":"c6","x":0.82,"y":1.52},{"l":5,"b":"c6","x":0.85,"y":1.505},{"l":5,"b":"c6","x":0.9,"y":1.43},{"l":5,"b":"c6","x":0.95,"y":1.34},{"l":5,"b":"c6","x":1,"y":1.3},
{"l":5,"b":"v1","x":0,"y":0.11},{"l":5,"b":"v1","x":0.05,"y":0.105},{"l":5,"b":"v1","x":0.1,"y":0.07},{"l":5,"b":"v1","x":0.15,"y":-0.01},{"l":5,"b":"v1","x":0.2,"y":-0.15},{"l":5,"b":"v1","x":0.25,"y":-0.33},{"l":5,"b":"v1","x":0.3,"y":-0.52},{"l":5,"b":"v1","x":0.35,"y":-0.7},{"l":5,"b":"v1","x":0.4,"y":-0.83},{"l":5,"b":"v1","x":0.45,"y":-0.895},{"l":5,"b":"v1","x":0.5,"y":-0.89},{"l":5,"b":"v1","x":0.55,"y":-0.87},{"l":5,"b":"v1","x":0.6,"y":-0.835},{"l":5,"b":"v1","x":0.65,"y":-0.78},{"l":5,"b":"v1","x":0.7,"y":-0.7},{"l":5,"b":"v1","x":0.75,"y":-0.59},{"l":5,"b":"v1","x":0.8,"y":-0.46},{"l":5,"b":"v1","x":0.85,"y":-0.32},{"l":5,"b":"v1","x":0.9,"y":-0.17},{"l":5,"b":"v1","x":0.95,"y":-0.055},{"l":5,"b":"v1","x":1,"y":-0.005},
{"l":5,"b":"v2","x":0,"y":0.02},{"l":5,"b":"v2","x":0.05,"y":0.01},{"l":5,"b":"v2","x":0.1,"y":-0.02},{"l":5,"b":"v2","x":0.15,"y":-0.09},{"l":5,"b":"v2","x":0.2,"y":-0.21},{"l":5,"b":"v2","x":0.25,"y":-0.37},{"l":5,"b":"v2","x":0.3,"y":-0.55},{"l":5,"b":"v2","x":0.35,"y":-0.71},{"l":5,"b":"v2","x":0.4,"y":-0.84},{"l":5,"b":"v2","x":0.45,"y":-0.9},{"l":5,"b":"v2","x":0.5,"y":-0.9},{"l":5,"b":"v2","x":0.55,"y":-0.88},{"l":5,"b":"v2","x":0.6,"y":-0.845},{"l":5,"b":"v2","x":0.65,"y":-0.79},{"l":5,"b":"v2","x":0.7,"y":-0.71},{"l":5,"b":"v2","x":0.75,"y":-0.6},{"l":5,"b":"v2","x":0.8,"y":-0.47},{"l":5,"b":"v2","x":0.85,"y":-0.33},{"l":5,"b":"v2","x":0.9,"y":-0.18},{"l":5,"b":"v2","x":0.95,"y":-0.065},{"l":5,"b":"v2","x":1,"y":-0.015},
{"l":5,"b":"v3","x":0,"y":-0.16},{"l":5,"b":"v3","x":0.05,"y":-0.17},{"l":5,"b":"v3","x":0.1,"y":-0.2},{"l":5,"b":"v3","x":0.15,"y":-0.26},{"l":5,"b":"v3","x":0.2,"y":-0.36},{"l":5,"b":"v3","x":0.25,"y":-0.5},{"l":5,"b":"v3","x":0.3,"y":-0.64},{"l":5,"b":"v3","x":0.35,"y":-0.77},{"l":5,"b":"v3","x":0.4,"y":-0.86},{"l":5,"b":"v3","x":0.45,"y":-0.91},{"l":5,"b":"v3","x":0.5,"y":-0.91},{"l":5,"b":"v3","x":0.55,"y":-0.89},{"l":5,"b":"v3","x":0.6,"y":-0.855},{"l":5,"b":"v3","x":0.65,"y":-0.8},{"l":5,"b":"v3","x":0.7,"y":-0.72},{"l":5,"b":"v3","x":0.75,"y":-0.61},{"l":5,"b":"v3","x":0.8,"y":-0.48},{"l":5,"b":"v3","x":0.85,"y":-0.34},{"l":5,"b":"v3","x":0.9,"y":-0.19},{"l":5,"b":"v3","x":0.95,"y":-0.075},{"l":5,"b":"v3","x":1,"y":-0.025},
{"l":5,"b":"v4","x":0,"y":-0.44},{"l":5,"b":"v4","x":0.05,"y":-0.44},{"l":5,"b":"v4","x":0.1,"y":-0.45},{"l":5,"b":"v4","x":0.15,"y":-0.48},{"l":5,"b":"v4","x":0.2,"y":-0.53},{"l":5,"b":"v4","x":0.25,"y":-0.62},{"l":5,"b":"v4","x":0.3,"y":-0.73},{"l":5,"b":"v4","x":0.35,"y":-0.86},{"l":5,"b":"v4","x":0.4,"y":-0.98},{"l":5,"b":"v4","x":0.45,"y":-1.08},{"l":5,"b":"v4","x":0.5,"y":-1.135},{"l":5,"b":"v4","x":0.55,"y":-1.15},{"l":5,"b":"v4","x":0.6,"y":-1.135},{"l":5,"b":"v4","x":0.65,"y":-1.1},{"l":5,"b":"v4","x":0.7,"y":-1.04},{"l":5,"b":"v4","x":0.75,"y":-0.96},{"l":5,"b":"v4","x":0.8,"y":-0.85},{"l":5,"b":"v4","x":0.85,"y":-0.73},{"l":5,"b":"v4","x":0.9,"y":-0.62},{"l":5,"b":"v4","x":0.95,"y":-0.54},{"l":5,"b":"v4","x":1,"y":-0.5},
{"l":5,"b":"v5","x":0,"y":-0.815},{"l":5,"b":"v5","x":0.05,"y":-0.81},{"l":5,"b":"v5","x":0.1,"y":-0.8},{"l":5,"b":"v5","x":0.15,"y":-0.8},{"l":5,"b":"v5","x":0.2,"y":-0.805},{"l":5,"b":"v5","x":0.25,"y":-0.83},{"l":5,"b":"v5","x":0.3,"y":-0.88},{"l":5,"b":"v5","x":0.35,"y":-0.95},{"l":5,"b":"v5","x":0.4,"y":-1.04},{"l":5,"b":"v5","x":0.45,"y":-1.11},{"l":5,"b":"v5","x":0.5,"y":-1.155},{"l":5,"b":"v5","x":0.55,"y":-1.162},{"l":5,"b":"v5","x":0.6,"y":-1.147},{"l":5,"b":"v5","x":0.65,"y":-1.112},{"l":5,"b":"v5","x":0.7,"y":-1.052},{"l":5,"b":"v5","x":0.75,"y":-0.972},{"l":5,"b":"v5","x":0.8,"y":-0.862},{"l":5,"b":"v5","x":0.85,"y":-0.742},{"l":5,"b":"v5","x":0.9,"y":-0.632},{"l":5,"b":"v5","x":0.95,"y":-0.552},{"l":5,"b":"v5","x":1,"y":-0.512},

{"l":6,"b":"c1","x":0,"y":2.58},{"l":6,"b":"c1","x":0.05,"y":2.57},{"l":6,"b":"c1","x":0.1,"y":2.53},{"l":6,"b":"c1","x":0.15,"y":2.43},{"l":6,"b":"c1","x":0.2,"y":2.25},{"l":6,"b":"c1","x":0.25,"y":2.15},{"l":6,"b":"c1","x":0.3,"y":2.07},{"l":6,"b":"c1","x":0.35,"y":2.01},{"l":6,"b":"c1","x":0.4,"y":1.94},{"l":6,"b":"c1","x":0.45,"y":1.89},{"l":6,"b":"c1","x":0.5,"y":1.85},{"l":6,"b":"c1","x":0.55,"y":1.84},{"l":6,"b":"c1","x":0.6,"y":1.92},{"l":6,"b":"c1","x":0.65,"y":2.05},{"l":6,"b":"c1","x":0.7,"y":2.127},{"l":6,"b":"c1","x":0.71,"y":2.13},{"l":6,"b":"c1","x":0.75,"y":2.095},{"l":6,"b":"c1","x":0.8,"y":1.96},{"l":6,"b":"c1","x":0.85,"y":1.765},{"l":6,"b":"c1","x":0.9,"y":1.565},{"l":6,"b":"c1","x":0.95,"y":1.415},{"l":6,"b":"c1","x":1,"y":1.36},
{"l":6,"b":"c2","x":0,"y":2.575},{"l":6,"b":"c2","x":0.05,"y":2.565},{"l":6,"b":"c2","x":0.1,"y":2.53},{"l":6,"b":"c2","x":0.15,"y":2.42},{"l":6,"b":"c2","x":0.2,"y":2.23},{"l":6,"b":"c2","x":0.25,"y":2.12},{"l":6,"b":"c2","x":0.3,"y":2.02},{"l":6,"b":"c2","x":0.35,"y":1.93},{"l":6,"b":"c2","x":0.4,"y":1.85},{"l":6,"b":"c2","x":0.45,"y":1.78},{"l":6,"b":"c2","x":0.5,"y":1.73},{"l":6,"b":"c2","x":0.55,"y":1.71},{"l":6,"b":"c2","x":0.6,"y":1.77},{"l":6,"b":"c2","x":0.65,"y":1.88},{"l":6,"b":"c2","x":0.7,"y":1.96},{"l":6,"b":"c2","x":0.73,"y":1.98},{"l":6,"b":"c2","x":0.75,"y":1.97},{"l":6,"b":"c2","x":0.8,"y":1.88},{"l":6,"b":"c2","x":0.85,"y":1.72},{"l":6,"b":"c2","x":0.9,"y":1.54},{"l":6,"b":"c2","x":0.95,"y":1.4},{"l":6,"b":"c2","x":1,"y":1.35},
{"l":6,"b":"c3","x":0,"y":2.565},{"l":6,"b":"c3","x":0.05,"y":2.555},{"l":6,"b":"c3","x":0.1,"y":2.53},{"l":6,"b":"c3","x":0.15,"y":2.41},{"l":6,"b":"c3","x":0.2,"y":2.22},{"l":6,"b":"c3","x":0.25,"y":2.08},{"l":6,"b":"c3","x":0.3,"y":1.96},{"l":6,"b":"c3","x":0.35,"y":1.845},{"l":6,"b":"c3","x":0.4,"y":1.735},{"l":6,"b":"c3","x":0.45,"y":1.64},{"l":6,"b":"c3","x":0.5,"y":1.575},{"l":6,"b":"c3","x":0.55,"y":1.55},{"l":6,"b":"c3","x":0.6,"y":1.59},{"l":6,"b":"c3","x":0.65,"y":1.675},{"l":6,"b":"c3","x":0.7,"y":1.76},{"l":6,"b":"c3","x":0.76,"y":1.8},{"l":6,"b":"c3","x":0.8,"y":1.77},{"l":6,"b":"c3","x":0.85,"y":1.66},{"l":6,"b":"c3","x":0.9,"y":1.51},{"l":6,"b":"c3","x":0.95,"y":1.39},{"l":6,"b":"c3","x":1,"y":1.34},
{"l":6,"b":"c4","x":0,"y":2.55},{"l":6,"b":"c4","x":0.05,"y":2.54},{"l":6,"b":"c4","x":0.1,"y":2.52},{"l":6,"b":"c4","x":0.15,"y":2.39},{"l":6,"b":"c4","x":0.2,"y":2.19},{"l":6,"b":"c4","x":0.25,"y":2.01},{"l":6,"b":"c4","x":0.3,"y":1.84},{"l":6,"b":"c4","x":0.35,"y":1.67},{"l":6,"b":"c4","x":0.4,"y":1.52},{"l":6,"b":"c4","x":0.45,"y":1.39},{"l":6,"b":"c4","x":0.5,"y":1.29},{"l":6,"b":"c4","x":0.55,"y":1.25},{"l":6,"b":"c4","x":0.6,"y":1.29},{"l":6,"b":"c4","x":0.65,"y":1.4},{"l":6,"b":"c4","x":0.7,"y":1.54},{"l":6,"b":"c4","x":0.75,"y":1.65},{"l":6,"b":"c4","x":0.8,"y":1.69},{"l":6,"b":"c4","x":0.85,"y":1.635},{"l":6,"b":"c4","x":0.9,"y":1.505},{"l":6,"b":"c4","x":0.95,"y":1.37},{"l":6,"b":"c4","x":1,"y":1.32},
{"l":6,"b":"c5","x":0,"y":2.545},{"l":6,"b":"c5","x":0.05,"y":2.535},{"l":6,"b":"c5","x":0.1,"y":2.52},{"l":6,"b":"c5","x":0.15,"y":2.39},{"l":6,"b":"c5","x":0.2,"y":2.17},{"l":6,"b":"c5","x":0.25,"y":1.98},{"l":6,"b":"c5","x":0.3,"y":1.79},{"l":6,"b":"c5","x":0.35,"y":1.6},{"l":6,"b":"c5","x":0.4,"y":1.43},{"l":6,"b":"c5","x":0.45,"y":1.28},{"l":6,"b":"c5","x":0.5,"y":1.17},{"l":6,"b":"c5","x":0.55,"y":1.12},{"l":6,"b":"c5","x":0.6,"y":1.16},{"l":6,"b":"c5","x":0.65,"y":1.27},{"l":6,"b":"c5","x":0.7,"y":1.41},{"l":6,"b":"c5","x":0.75,"y":1.53},{"l":6,"b":"c5","x":0.8,"y":1.588},{"l":6,"b":"c5","x":0.81,"y":1.59},{"l":6,"b":"c5","x":0.85,"y":1.56},{"l":6,"b":"c5","x":0.9,"y":1.46},{"l":6,"b":"c5","x":0.95,"y":1.355},{"l":6,"b":"c5","x":1,"y":1.31},
{"l":6,"b":"c6","x":0,"y":2.54},{"l":6,"b":"c6","x":0.05,"y":2.53},{"l":6,"b":"c6","x":0.1,"y":2.52},{"l":6,"b":"c6","x":0.15,"y":2.38},{"l":6,"b":"c6","x":0.2,"y":2.16},{"l":6,"b":"c6","x":0.25,"y":1.95},{"l":6,"b":"c6","x":0.3,"y":1.745},{"l":6,"b":"c6","x":0.35,"y":1.54},{"l":6,"b":"c6","x":0.4,"y":1.35},{"l":6,"b":"c6","x":0.45,"y":1.18},{"l":6,"b":"c6","x":0.5,"y":1.065},{"l":6,"b":"c6","x":0.55,"y":1.01},{"l":6,"b":"c6","x":0.6,"y":1.05},{"l":6,"b":"c6","x":0.65,"y":1.16},{"l":6,"b":"c6","x":0.7,"y":1.3},{"l":6,"b":"c6","x":0.75,"y":1.43},{"l":6,"b":"c6","x":0.8,"y":1.51},{"l":6,"b":"c6","x":0.825,"y":1.52},{"l":6,"b":"c6","x":0.85,"y":1.51},{"l":6,"b":"c6","x":0.9,"y":1.435},{"l":6,"b":"c6","x":0.95,"y":1.34},{"l":6,"b":"c6","x":1,"y":1.3},
{"l":6,"b":"v1","x":0,"y":0.13},{"l":6,"b":"v1","x":0.05,"y":0.125},{"l":6,"b":"v1","x":0.1,"y":0.09},{"l":6,"b":"v1","x":0.15,"y":0.01},{"l":6,"b":"v1","x":0.2,"y":-0.13},{"l":6,"b":"v1","x":0.25,"y":-0.31},{"l":6,"b":"v1","x":0.3,"y":-0.51},{"l":6,"b":"v1","x":0.35,"y":-0.69},{"l":6,"b":"v1","x":0.4,"y":-0.82},{"l":6,"b":"v1","x":0.45,"y":-0.895},{"l":6,"b":"v1","x":0.5,"y":-0.89},{"l":6,"b":"v1","x":0.55,"y":-0.87},{"l":6,"b":"v1","x":0.6,"y":-0.835},{"l":6,"b":"v1","x":0.65,"y":-0.78},{"l":6,"b":"v1","x":0.7,"y":-0.7},{"l":6,"b":"v1","x":0.75,"y":-0.59},{"l":6,"b":"v1","x":0.8,"y":-0.46},{"l":6,"b":"v1","x":0.85,"y":-0.32},{"l":6,"b":"v1","x":0.9,"y":-0.17},{"l":6,"b":"v1","x":0.95,"y":-0.055},{"l":6,"b":"v1","x":1,"y":-0.005},
{"l":6,"b":"v2","x":0,"y":0.07},{"l":6,"b":"v2","x":0.05,"y":0.06},{"l":6,"b":"v2","x":0.1,"y":0.03},{"l":6,"b":"v2","x":0.15,"y":-0.05},{"l":6,"b":"v2","x":0.2,"y":-0.18},{"l":6,"b":"v2","x":0.25,"y":-0.35},{"l":6,"b":"v2","x":0.3,"y":-0.53},{"l":6,"b":"v2","x":0.35,"y":-0.7},{"l":6,"b":"v2","x":0.4,"y":-0.83},{"l":6,"b":"v2","x":0.45,"y":-0.9},{"l":6,"b":"v2","x":0.5,"y":-0.9},{"l":6,"b":"v2","x":0.55,"y":-0.88},{"l":6,"b":"v2","x":0.6,"y":-0.845},{"l":6,"b":"v2","x":0.65,"y":-0.79},{"l":6,"b":"v2","x":0.7,"y":-0.71},{"l":6,"b":"v2","x":0.75,"y":-0.6},{"l":6,"b":"v2","x":0.8,"y":-0.47},{"l":6,"b":"v2","x":0.85,"y":-0.33},{"l":6,"b":"v2","x":0.9,"y":-0.18},{"l":6,"b":"v2","x":0.95,"y":-0.065},{"l":6,"b":"v2","x":1,"y":-0.015},
{"l":6,"b":"v3","x":0,"y":-0.05},{"l":6,"b":"v3","x":0.05,"y":-0.06},{"l":6,"b":"v3","x":0.1,"y":-0.09},{"l":6,"b":"v3","x":0.15,"y":-0.15},{"l":6,"b":"v3","x":0.2,"y":-0.26},{"l":6,"b":"v3","x":0.25,"y":-0.41},{"l":6,"b":"v3","x":0.3,"y":-0.58},{"l":6,"b":"v3","x":0.35,"y":-0.73},{"l":6,"b":"v3","x":0.4,"y":-0.85},{"l":6,"b":"v3","x":0.45,"y":-0.905},{"l":6,"b":"v3","x":0.5,"y":-0.91},{"l":6,"b":"v3","x":0.55,"y":-0.89},{"l":6,"b":"v3","x":0.6,"y":-0.855},{"l":6,"b":"v3","x":0.65,"y":-0.8},{"l":6,"b":"v3","x":0.7,"y":-0.72},{"l":6,"b":"v3","x":0.75,"y":-0.61},{"l":6,"b":"v3","x":0.8,"y":-0.48},{"l":6,"b":"v3","x":0.85,"y":-0.34},{"l":6,"b":"v3","x":0.9,"y":-0.19},{"l":6,"b":"v3","x":0.95,"y":-0.075},{"l":6,"b":"v3","x":1,"y":-0.025},
{"l":6,"b":"v4","x":0,"y":-0.24},{"l":6,"b":"v4","x":0.05,"y":-0.245},{"l":6,"b":"v4","x":0.1,"y":-0.27},{"l":6,"b":"v4","x":0.15,"y":-0.32},{"l":6,"b":"v4","x":0.2,"y":-0.4},{"l":6,"b":"v4","x":0.25,"y":-0.52},{"l":6,"b":"v4","x":0.3,"y":-0.65},{"l":6,"b":"v4","x":0.35,"y":-0.79},{"l":6,"b":"v4","x":0.4,"y":-0.93},{"l":6,"b":"v4","x":0.45,"y":-1.06},{"l":6,"b":"v4","x":0.5,"y":-1.13},{"l":6,"b":"v4","x":0.55,"y":-1.15},{"l":6,"b":"v4","x":0.6,"y":-1.135},{"l":6,"b":"v4","x":0.65,"y":-1.1},{"l":6,"b":"v4","x":0.7,"y":-1.04},{"l":6,"b":"v4","x":0.75,"y":-0.96},{"l":6,"b":"v4","x":0.8,"y":-0.85},{"l":6,"b":"v4","x":0.85,"y":-0.73},{"l":6,"b":"v4","x":0.9,"y":-0.62},{"l":6,"b":"v4","x":0.95,"y":-0.54},{"l":6,"b":"v4","x":1,"y":-0.5},
{"l":6,"b":"v5","x":0,"y":-0.5},{"l":6,"b":"v5","x":0.05,"y":-0.5},{"l":6,"b":"v5","x":0.1,"y":-0.505},{"l":6,"b":"v5","x":0.15,"y":-0.53},{"l":6,"b":"v5","x":0.2,"y":-0.57},{"l":6,"b":"v5","x":0.25,"y":-0.64},{"l":6,"b":"v5","x":0.3,"y":-0.75},{"l":6,"b":"v5","x":0.35,"y":-0.87},{"l":6,"b":"v5","x":0.4,"y":-0.99},{"l":6,"b":"v5","x":0.45,"y":-1.09},{"l":6,"b":"v5","x":0.5,"y":-1.152},{"l":6,"b":"v5","x":0.55,"y":-1.162},{"l":6,"b":"v5","x":0.6,"y":-1.147},{"l":6,"b":"v5","x":0.65,"y":-1.112},{"l":6,"b":"v5","x":0.7,"y":-1.052},{"l":6,"b":"v5","x":0.75,"y":-0.972},{"l":6,"b":"v5","x":0.8,"y":-0.862},{"l":6,"b":"v5","x":0.85,"y":-0.742},{"l":6,"b":"v5","x":0.9,"y":-0.632},{"l":6,"b":"v5","x":0.95,"y":-0.552},{"l":6,"b":"v5","x":1,"y":-0.512},
{"l":6,"b":"v6","x":0,"y":-0.83},{"l":6,"b":"v6","x":0.05,"y":-0.825},{"l":6,"b":"v6","x":0.1,"y":-0.815},{"l":6,"b":"v6","x":0.15,"y":-0.81},{"l":6,"b":"v6","x":0.2,"y":-0.815},{"l":6,"b":"v6","x":0.25,"y":-0.84},{"l":6,"b":"v6","x":0.3,"y":-0.89},{"l":6,"b":"v6","x":0.35,"y":-0.96},{"l":6,"b":"v6","x":0.4,"y":-1.05},{"l":6,"b":"v6","x":0.45,"y":-1.11},{"l":6,"b":"v6","x":0.5,"y":-1.165},{"l":6,"b":"v6","x":0.55,"y":-1.174},{"l":6,"b":"v6","x":0.6,"y":-1.159},{"l":6,"b":"v6","x":0.65,"y":-1.124},{"l":6,"b":"v6","x":0.7,"y":-1.064},{"l":6,"b":"v6","x":0.75,"y":-0.984},{"l":6,"b":"v6","x":0.8,"y":-0.874},{"l":6,"b":"v6","x":0.85,"y":-0.754},{"l":6,"b":"v6","x":0.9,"y":-0.644},{"l":6,"b":"v6","x":0.95,"y":-0.564},{"l":6,"b":"v6","x":1,"y":-0.524},

{"l":7,"b":"c1","x":0,"y":2.585},{"l":7,"b":"c1","x":0.05,"y":2.575},{"l":7,"b":"c1","x":0.1,"y":2.53},{"l":7,"b":"c1","x":0.15,"y":2.43},{"l":7,"b":"c1","x":0.2,"y":2.25},{"l":7,"b":"c1","x":0.25,"y":2.16},{"l":7,"b":"c1","x":0.3,"y":2.08},{"l":7,"b":"c1","x":0.35,"y":2.02},{"l":7,"b":"c1","x":0.4,"y":1.96},{"l":7,"b":"c1","x":0.45,"y":1.91},{"l":7,"b":"c1","x":0.5,"y":1.875},{"l":7,"b":"c1","x":0.55,"y":1.86},{"l":7,"b":"c1","x":0.6,"y":1.94},{"l":7,"b":"c1","x":0.65,"y":2.07},{"l":7,"b":"c1","x":0.7,"y":2.147},{"l":7,"b":"c1","x":0.71,"y":2.15},{"l":7,"b":"c1","x":0.75,"y":2.115},{"l":7,"b":"c1","x":0.8,"y":1.98},{"l":7,"b":"c1","x":0.85,"y":1.78},{"l":7,"b":"c1","x":0.9,"y":1.58},{"l":7,"b":"c1","x":0.95,"y":1.43},{"l":7,"b":"c1","x":1,"y":1.37},
{"l":7,"b":"c2","x":0,"y":2.58},{"l":7,"b":"c2","x":0.05,"y":2.57},{"l":7,"b":"c2","x":0.1,"y":2.53},{"l":7,"b":"c2","x":0.15,"y":2.42},{"l":7,"b":"c2","x":0.2,"y":2.24},{"l":7,"b":"c2","x":0.25,"y":2.13},{"l":7,"b":"c2","x":0.3,"y":2.03},{"l":7,"b":"c2","x":0.35,"y":1.94},{"l":7,"b":"c2","x":0.4,"y":1.86},{"l":7,"b":"c2","x":0.45,"y":1.8},{"l":7,"b":"c2","x":0.5,"y":1.75},{"l":7,"b":"c2","x":0.55,"y":1.73},{"l":7,"b":"c2","x":0.6,"y":1.79},{"l":7,"b":"c2","x":0.65,"y":1.9},{"l":7,"b":"c2","x":0.7,"y":1.98},{"l":7,"b":"c2","x":0.73,"y":2.0},{"l":7,"b":"c2","x":0.75,"y":1.99},{"l":7,"b":"c2","x":0.8,"y":1.9},{"l":7,"b":"c2","x":0.85,"y":1.74},{"l":7,"b":"c2","x":0.9,"y":1.55},{"l":7,"b":"c2","x":0.95,"y":1.41},{"l":7,"b":"c2","x":1,"y":1.36},
{"l":7,"b":"c3","x":0,"y":2.57},{"l":7,"b":"c3","x":0.05,"y":2.56},{"l":7,"b":"c3","x":0.1,"y":2.53},{"l":7,"b":"c3","x":0.15,"y":2.41},{"l":7,"b":"c3","x":0.2,"y":2.22},{"l":7,"b":"c3","x":0.25,"y":2.1},{"l":7,"b":"c3","x":0.3,"y":1.98},{"l":7,"b":"c3","x":0.35,"y":1.87},{"l":7,"b":"c3","x":0.4,"y":1.77},{"l":7,"b":"c3","x":0.45,"y":1.68},{"l":7,"b":"c3","x":0.5,"y":1.62},{"l":7,"b":"c3","x":0.55,"y":1.6},{"l":7,"b":"c3","x":0.6,"y":1.65},{"l":7,"b":"c3","x":0.65,"y":1.74},{"l":7,"b":"c3","x":0.7,"y":1.825},{"l":7,"b":"c3","x":0.75,"y":1.86},{"l":7,"b":"c3","x":0.8,"y":1.81},{"l":7,"b":"c3","x":0.85,"y":1.685},{"l":7,"b":"c3","x":0.9,"y":1.525},{"l":7,"b":"c3","x":0.95,"y":1.4},{"l":7,"b":"c3","x":1,"y":1.35},
{"l":7,"b":"c4","x":0,"y":2.565},{"l":7,"b":"c4","x":0.05,"y":2.555},{"l":7,"b":"c4","x":0.1,"y":2.53},{"l":7,"b":"c4","x":0.15,"y":2.41},{"l":7,"b":"c4","x":0.2,"y":2.21},{"l":7,"b":"c4","x":0.25,"y":2.07},{"l":7,"b":"c4","x":0.3,"y":1.94},{"l":7,"b":"c4","x":0.35,"y":1.82},{"l":7,"b":"c4","x":0.4,"y":1.71},{"l":7,"b":"c4","x":0.45,"y":1.61},{"l":7,"b":"c4","x":0.5,"y":1.54},{"l":7,"b":"c4","x":0.55,"y":1.51},{"l":7,"b":"c4","x":0.6,"y":1.55},{"l":7,"b":"c4","x":0.65,"y":1.625},{"l":7,"b":"c4","x":0.7,"y":1.71},{"l":7,"b":"c4","x":0.75,"y":1.755},{"l":7,"b":"c4","x":0.77,"y":1.76},{"l":7,"b":"c4","x":0.8,"y":1.745},{"l":7,"b":"c4","x":0.85,"y":1.645},{"l":7,"b":"c4","x":0.9,"y":1.51},{"l":7,"b":"c4","x":0.95,"y":1.39},{"l":7,"b":"c4","x":1,"y":1.34},
{"l":7,"b":"c5","x":0,"y":2.555},{"l":7,"b":"c5","x":0.05,"y":2.545},{"l":7,"b":"c5","x":0.1,"y":2.52},{"l":7,"b":"c5","x":0.15,"y":2.4},{"l":7,"b":"c5","x":0.2,"y":2.19},{"l":7,"b":"c5","x":0.25,"y":2.02},{"l":7,"b":"c5","x":0.3,"y":1.85},{"l":7,"b":"c5","x":0.35,"y":1.69},{"l":7,"b":"c5","x":0.4,"y":1.54},{"l":7,"b":"c5","x":0.45,"y":1.41},{"l":7,"b":"c5","x":0.5,"y":1.32},{"l":7,"b":"c5","x":0.55,"y":1.28},{"l":7,"b":"c5","x":0.6,"y":1.32},{"l":7,"b":"c5","x":0.65,"y":1.44},{"l":7,"b":"c5","x":0.7,"y":1.58},{"l":7,"b":"c5","x":0.75,"y":1.68},{"l":7,"b":"c5","x":0.79,"y":1.71},{"l":7,"b":"c5","x":0.8,"y":1.708},{"l":7,"b":"c5","x":0.85,"y":1.64},{"l":7,"b":"c5","x":0.9,"y":1.51},{"l":7,"b":"c5","x":0.95,"y":1.38},{"l":7,"b":"c5","x":1,"y":1.33},
{"l":7,"b":"c6","x":0,"y":2.55},{"l":7,"b":"c6","x":0.05,"y":2.54},{"l":7,"b":"c6","x":0.1,"y":2.52},{"l":7,"b":"c6","x":0.15,"y":2.39},{"l":7,"b":"c6","x":0.2,"y":2.18},{"l":7,"b":"c6","x":0.25,"y":2.0},{"l":7,"b":"c6","x":0.3,"y":1.82},{"l":7,"b":"c6","x":0.35,"y":1.64},{"l":7,"b":"c6","x":0.4,"y":1.48},{"l":7,"b":"c6","x":0.45,"y":1.34},{"l":7,"b":"c6","x":0.5,"y":1.235},{"l":7,"b":"c6","x":0.55,"y":1.19},{"l":7,"b":"c6","x":0.6,"y":1.23},{"l":7,"b":"c6","x":0.65,"y":1.345},{"l":7,"b":"c6","x":0.7,"y":1.485},{"l":7,"b":"c6","x":0.75,"y":1.6},{"l":7,"b":"c6","x":0.8,"y":1.64},{"l":7,"b":"c6","x":0.85,"y":1.595},{"l":7,"b":"c6","x":0.9,"y":1.48},{"l":7,"b":"c6","x":0.95,"y":1.37},{"l":7,"b":"c6","x":1,"y":1.32},
{"l":7,"b":"c7","x":0,"y":2.545},{"l":7,"b":"c7","x":0.05,"y":2.535},{"l":7,"b":"c7","x":0.1,"y":2.52},{"l":7,"b":"c7","x":0.15,"y":2.39},{"l":7,"b":"c7","x":0.2,"y":2.17},{"l":7,"b":"c7","x":0.25,"y":1.97},{"l":7,"b":"c7","x":0.3,"y":1.78},{"l":7,"b":"c7","x":0.35,"y":1.59},{"l":7,"b":"c7","x":0.4,"y":1.42},{"l":7,"b":"c7","x":0.45,"y":1.26},{"l":7,"b":"c7","x":0.5,"y":1.15},{"l":7,"b":"c7","x":0.55,"y":1.1},{"l":7,"b":"c7","x":0.6,"y":1.14},{"l":7,"b":"c7","x":0.65,"y":1.25},{"l":7,"b":"c7","x":0.7,"y":1.4},{"l":7,"b":"c7","x":0.75,"y":1.52},{"l":7,"b":"c7","x":0.8,"y":1.578},{"l":7,"b":"c7","x":0.81,"y":1.58},{"l":7,"b":"c7","x":0.85,"y":1.55},{"l":7,"b":"c7","x":0.9,"y":1.455},{"l":7,"b":"c7","x":0.95,"y":1.355},{"l":7,"b":"c7","x":1,"y":1.31},
{"l":7,"b":"c8","x":0,"y":2.54},{"l":7,"b":"c8","x":0.05,"y":2.53},{"l":7,"b":"c8","x":0.1,"y":2.52},{"l":7,"b":"c8","x":0.15,"y":2.38},{"l":7,"b":"c8","x":0.2,"y":2.16},{"l":7,"b":"c8","x":0.25,"y":1.95},{"l":7,"b":"c8","x":0.3,"y":1.74},{"l":7,"b":"c8","x":0.35,"y":1.53},{"l":7,"b":"c8","x":0.4,"y":1.34},{"l":7,"b":"c8","x":0.45,"y":1.17},{"l":7,"b":"c8","x":0.5,"y":1.05},{"l":7,"b":"c8","x":0.55,"y":0.99},{"l":7,"b":"c8","x":0.6,"y":1.035},{"l":7,"b":"c8","x":0.65,"y":1.155},{"l":7,"b":"c8","x":0.7,"y":1.31},{"l":7,"b":"c8","x":0.75,"y":1.445},{"l":7,"b":"c8","x":0.8,"y":1.52},{"l":7,"b":"c8","x":0.82,"y":1.53},{"l":7,"b":"c8","x":0.85,"y":1.515},{"l":7,"b":"c8","x":0.9,"y":1.435},{"l":7,"b":"c8","x":0.95,"y":1.34},{"l":7,"b":"c8","x":1,"y":1.3},
{"l":7,"b":"v1","x":0,"y":0.14},{"l":7,"b":"v1","x":0.05,"y":0.135},{"l":7,"b":"v1","x":0.1,"y":0.1},{"l":7,"b":"v1","x":0.15,"y":0.02},{"l":7,"b":"v1","x":0.2,"y":-0.12},{"l":7,"b":"v1","x":0.25,"y":-0.3},{"l":7,"b":"v1","x":0.3,"y":-0.5},{"l":7,"b":"v1","x":0.35,"y":-0.68},{"l":7,"b":"v1","x":0.4,"y":-0.82},{"l":7,"b":"v1","x":0.45,"y":-0.895},{"l":7,"b":"v1","x":0.5,"y":-0.89},{"l":7,"b":"v1","x":0.55,"y":-0.87},{"l":7,"b":"v1","x":0.6,"y":-0.835},{"l":7,"b":"v1","x":0.65,"y":-0.78},{"l":7,"b":"v1","x":0.7,"y":-0.7},{"l":7,"b":"v1","x":0.75,"y":-0.59},{"l":7,"b":"v1","x":0.8,"y":-0.46},{"l":7,"b":"v1","x":0.85,"y":-0.32},{"l":7,"b":"v1","x":0.9,"y":-0.17},{"l":7,"b":"v1","x":0.95,"y":-0.055},{"l":7,"b":"v1","x":1,"y":-0.005},
{"l":7,"b":"v2","x":0,"y":0.1},{"l":7,"b":"v2","x":0.05,"y":0.09},{"l":7,"b":"v2","x":0.1,"y":0.06},{"l":7,"b":"v2","x":0.15,"y":-0.02},{"l":7,"b":"v2","x":0.2,"y":-0.15},{"l":7,"b":"v2","x":0.25,"y":-0.33},{"l":7,"b":"v2","x":0.3,"y":-0.52},{"l":7,"b":"v2","x":0.35,"y":-0.7},{"l":7,"b":"v2","x":0.4,"y":-0.83},{"l":7,"b":"v2","x":0.45,"y":-0.9},{"l":7,"b":"v2","x":0.5,"y":-0.9},{"l":7,"b":"v2","x":0.55,"y":-0.88},{"l":7,"b":"v2","x":0.6,"y":-0.845},{"l":7,"b":"v2","x":0.65,"y":-0.79},{"l":7,"b":"v2","x":0.7,"y":-0.71},{"l":7,"b":"v2","x":0.75,"y":-0.6},{"l":7,"b":"v2","x":0.8,"y":-0.47},{"l":7,"b":"v2","x":0.85,"y":-0.33},{"l":7,"b":"v2","x":0.9,"y":-0.18},{"l":7,"b":"v2","x":0.95,"y":-0.065},{"l":7,"b":"v2","x":1,"y":-0.015},
{"l":7,"b":"v3","x":0,"y":0.01},{"l":7,"b":"v3","x":0.05,"y":0.0},{"l":7,"b":"v3","x":0.1,"y":-0.03},{"l":7,"b":"v3","x":0.15,"y":-0.1},{"l":7,"b":"v3","x":0.2,"y":-0.22},{"l":7,"b":"v3","x":0.25,"y":-0.38},{"l":7,"b":"v3","x":0.3,"y":-0.55},{"l":7,"b":"v3","x":0.35,"y":-0.71},{"l":7,"b":"v3","x":0.4,"y":-0.84},{"l":7,"b":"v3","x":0.45,"y":-0.905},{"l":7,"b":"v3","x":0.5,"y":-0.91},{"l":7,"b":"v3","x":0.55,"y":-0.89},{"l":7,"b":"v3","x":0.6,"y":-0.855},{"l":7,"b":"v3","x":0.65,"y":-0.8},{"l":7,"b":"v3","x":0.7,"y":-0.72},{"l":7,"b":"v3","x":0.75,"y":-0.61},{"l":7,"b":"v3","x":0.8,"y":-0.48},{"l":7,"b":"v3","x":0.85,"y":-0.34},{"l":7,"b":"v3","x":0.9,"y":-0.19},{"l":7,"b":"v3","x":0.95,"y":-0.075},{"l":7,"b":"v3","x":1,"y":-0.025},
{"l":7,"b":"v4","x":0,"y":-0.13},{"l":7,"b":"v4","x":0.05,"y":-0.14},{"l":7,"b":"v4","x":0.1,"y":-0.17},{"l":7,"b":"v4","x":0.15,"y":-0.23},{"l":7,"b":"v4","x":0.2,"y":-0.34},{"l":7,"b":"v4","x":0.25,"y":-0.48},{"l":7,"b":"v4","x":0.3,"y":-0.63},{"l":7,"b":"v4","x":0.35,"y":-0.77},{"l":7,"b":"v4","x":0.4,"y":-0.86},{"l":7,"b":"v4","x":0.45,"y":-0.91},{"l":7,"b":"v4","x":0.5,"y":-0.92},{"l":7,"b":"v4","x":0.55,"y":-0.9},{"l":7,"b":"v4","x":0.6,"y":-0.865},{"l":7,"b":"v4","x":0.65,"y":-0.81},{"l":7,"b":"v4","x":0.7,"y":-0.73},{"l":7,"b":"v4","x":0.75,"y":-0.62},{"l":7,"b":"v4","x":0.8,"y":-0.49},{"l":7,"b":"v4","x":0.85,"y":-0.35},{"l":7,"b":"v4","x":0.9,"y":-0.2},{"l":7,"b":"v4","x":0.95,"y":-0.085},{"l":7,"b":"v4","x":1,"y":-0.035},
{"l":7,"b":"v5","x":0,"y":-0.315},{"l":7,"b":"v5","x":0.05,"y":-0.32},{"l":7,"b":"v5","x":0.1,"y":-0.33},{"l":7,"b":"v5","x":0.15,"y":-0.37},{"l":7,"b":"v5","x":0.2,"y":-0.45},{"l":7,"b":"v5","x":0.25,"y":-0.56},{"l":7,"b":"v5","x":0.3,"y":-0.68},{"l":7,"b":"v5","x":0.35,"y":-0.81},{"l":7,"b":"v5","x":0.4,"y":-0.95},{"l":7,"b":"v5","x":0.45,"y":-1.07},{"l":7,"b":"v5","x":0.5,"y":-1.13},{"l":7,"b":"v5","x":0.55,"y":-1.15},{"l":7,"b":"v5","x":0.6,"y":-1.135},{"l":7,"b":"v5","x":0.65,"y":-1.1},{"l":7,"b":"v5","x":0.7,"y":-1.04},{"l":7,"b":"v5","x":0.75,"y":-0.96},{"l":7,"b":"v5","x":0.8,"y":-0.85},{"l":7,"b":"v5","x":0.85,"y":-0.73},{"l":7,"b":"v5","x":0.9,"y":-0.62},{"l":7,"b":"v5","x":0.95,"y":-0.54},{"l":7,"b":"v5","x":1,"y":-0.5},
{"l":7,"b":"v6","x":0,"y":-0.555},{"l":7,"b":"v6","x":0.05,"y":-0.555},{"l":7,"b":"v6","x":0.1,"y":-0.555},{"l":7,"b":"v6","x":0.15,"y":-0.56},{"l":7,"b":"v6","x":0.2,"y":-0.59},{"l":7,"b":"v6","x":0.25,"y":-0.65},{"l":7,"b":"v6","x":0.3,"y":-0.75},{"l":7,"b":"v6","x":0.35,"y":-0.87},{"l":7,"b":"v6","x":0.4,"y":-0.99},{"l":7,"b":"v6","x":0.45,"y":-1.09},{"l":7,"b":"v6","x":0.5,"y":-1.152},{"l":7,"b":"v6","x":0.55,"y":-1.162},{"l":7,"b":"v6","x":0.6,"y":-1.147},{"l":7,"b":"v6","x":0.65,"y":-1.112},{"l":7,"b":"v6","x":0.7,"y":-1.052},{"l":7,"b":"v6","x":0.75,"y":-0.972},{"l":7,"b":"v6","x":0.8,"y":-0.862},{"l":7,"b":"v6","x":0.85,"y":-0.742},{"l":7,"b":"v6","x":0.9,"y":-0.632},{"l":7,"b":"v6","x":0.95,"y":-0.552},{"l":7,"b":"v6","x":1,"y":-0.512},
{"l":7,"b":"v7","x":0,"y":-0.85},{"l":7,"b":"v7","x":0.05,"y":-0.845},{"l":7,"b":"v7","x":0.1,"y":-0.83},{"l":7,"b":"v7","x":0.15,"y":-0.82},{"l":7,"b":"v7","x":0.2,"y":-0.825},{"l":7,"b":"v7","x":0.25,"y":-0.84},{"l":7,"b":"v7","x":0.3,"y":-0.89},{"l":7,"b":"v7","x":0.35,"y":-0.96},{"l":7,"b":"v7","x":0.4,"y":-1.05},{"l":7,"b":"v7","x":0.45,"y":-1.11},{"l":7,"b":"v7","x":0.5,"y":-1.165},{"l":7,"b":"v7","x":0.55,"y":-1.174},{"l":7,"b":"v7","x":0.6,"y":-1.159},{"l":7,"b":"v7","x":0.65,"y":-1.124},{"l":7,"b":"v7","x":0.7,"y":-1.064},{"l":7,"b":"v7","x":0.75,"y":-0.984},{"l":7,"b":"v7","x":0.8,"y":-0.874},{"l":7,"b":"v7","x":0.85,"y":-0.754},{"l":7,"b":"v7","x":0.9,"y":-0.644},{"l":7,"b":"v7","x":0.95,"y":-0.564},{"l":7,"b":"v7","x":1,"y":-0.524}
]},
"columns": 3,
"spacing": {"row": 9, "column": 31.3},
"align": "each",
"concat": [
{"width": 316, "height": 296, "title": {"text": "2 layers", "dx": 5, "offset": 12},
 "transform": [{"filter": "datum.l == 2"}], "mark": {"type": "line"},
 "encoding": {
  "x": {"field": "x", "type": "quantitative", "scale": {"domain": [0, 1], "nice": false, "zero": false}, "axis": {"values": [0, 0.527, 1], "labelExpr": "datum.value == 0 ? 'Γ' : (datum.value == 1 ? 'K' : 'Λ')", "labelFlush": false, "labelOverlap": false, "labelPadding": 2, "title": null, "labelFont": {"condition": {"test": "datum.value > 0.1 && datum.value < 0.9", "value": "Liberation Serif"}, "value": "DejaVu Sans"}, "labelFontStyle": {"condition": {"test": "datum.value > 0.9", "value": "italic"}, "value": "normal"}, "labelFontSize": {"condition": {"test": "datum.value > 0.1 && datum.value < 0.9", "value": 16}, "value": 14}}},
  "y": {"field": "y", "type": "quantitative", "scale": {"domain": [-1.5, 2.825], "nice": false, "zero": false}, "axis": {"values": [-1.5, -1, -0.5, 0, 0.5, 1, 1.5, 2, 2.5], "format": ".1f", "labelPadding": 1.5, "title": "E (eV)", "titleFont": "Liberation Serif", "titleFontSize": 34, "titleFontWeight": "normal", "titlePadding": 6, "titleY": 157}},
  "detail": {"field": "b"}}},
{"width": 316, "height": 296, "title": {"text": "3 layers", "dx": 8, "offset": 12},
 "transform": [{"filter": "datum.l == 3"}], "mark": {"type": "line"},
 "encoding": {
  "x": {"field": "x", "type": "quantitative", "scale": {"domain": [0, 1], "nice": false, "zero": false}, "axis": {"values": [0, 0.527, 1], "labelExpr": "datum.value == 0 ? 'Γ' : (datum.value == 1 ? 'K' : 'Λ')", "labelFlush": false, "labelOverlap": false, "labelPadding": 2, "title": null, "labelFont": {"condition": {"test": "datum.value > 0.1 && datum.value < 0.9", "value": "Liberation Serif"}, "value": "DejaVu Sans"}, "labelFontStyle": {"condition": {"test": "datum.value > 0.9", "value": "italic"}, "value": "normal"}, "labelFontSize": {"condition": {"test": "datum.value > 0.1 && datum.value < 0.9", "value": 16}, "value": 14}}},
  "y": {"field": "y", "type": "quantitative", "scale": {"domain": [-1.5, 2.825], "nice": false, "zero": false}, "axis": {"values": [-1.5, -1, -0.5, 0, 0.5, 1, 1.5, 2, 2.5], "format": ".1f", "labelPadding": 1.5, "title": null}},
  "detail": {"field": "b"}}},
{"width": 316, "height": 296, "title": {"text": "4 layers", "dx": -17, "offset": 12},
 "transform": [{"filter": "datum.l == 4"}], "mark": {"type": "line"},
 "encoding": {
  "x": {"field": "x", "type": "quantitative", "scale": {"domain": [0, 1], "nice": false, "zero": false}, "axis": {"values": [0, 0.527, 1], "labelExpr": "datum.value == 0 ? 'Γ' : (datum.value == 1 ? 'K' : 'Λ')", "labelFlush": false, "labelOverlap": false, "labelPadding": 2, "title": null, "labelFont": {"condition": {"test": "datum.value > 0.1 && datum.value < 0.9", "value": "Liberation Serif"}, "value": "DejaVu Sans"}, "labelFontStyle": {"condition": {"test": "datum.value > 0.9", "value": "italic"}, "value": "normal"}, "labelFontSize": {"condition": {"test": "datum.value > 0.1 && datum.value < 0.9", "value": 16}, "value": 14}}},
  "y": {"field": "y", "type": "quantitative", "scale": {"domain": [-1.5, 2.825], "nice": false, "zero": false}, "axis": {"values": [-1.5, -1, -0.5, 0, 0.5, 1, 1.5, 2, 2.5], "format": ".1f", "labelPadding": 1.5, "title": null}},
  "detail": {"field": "b"}}},
{"width": 316, "height": 298, "title": {"text": "5 layers", "dx": 5, "offset": 12},
 "transform": [{"filter": "datum.l == 5"}], "mark": {"type": "line"},
 "encoding": {
  "x": {"field": "x", "type": "quantitative", "scale": {"domain": [0, 1], "nice": false, "zero": false}, "axis": {"values": [0, 0.527, 1], "labelExpr": "datum.value == 0 ? 'Γ' : (datum.value == 1 ? 'K' : 'Λ')", "labelFlush": false, "labelOverlap": false, "labelPadding": 2, "title": null, "labelFont": {"condition": {"test": "datum.value > 0.1 && datum.value < 0.9", "value": "Liberation Serif"}, "value": "DejaVu Sans"}, "labelFontStyle": {"condition": {"test": "datum.value > 0.9", "value": "italic"}, "value": "normal"}, "labelFontSize": {"condition": {"test": "datum.value > 0.1 && datum.value < 0.9", "value": 16}, "value": 14}}},
  "y": {"field": "y", "type": "quantitative", "scale": {"domain": [-1.52, 2.846], "nice": false, "zero": false}, "axis": {"values": [-1.5, -1, -0.5, 0, 0.5, 1, 1.5, 2, 2.5], "format": ".1f", "labelPadding": 1.5, "title": "E (eV)", "titleFont": "Liberation Serif", "titleFontSize": 34, "titleFontWeight": "normal", "titlePadding": 6, "titleY": 152.8}},
  "detail": {"field": "b"}}},
{"width": 316, "height": 301, "title": {"text": "6 layers", "dx": 8, "offset": 12},
 "transform": [{"filter": "datum.l == 6"}], "mark": {"type": "line"},
 "encoding": {
  "x": {"field": "x", "type": "quantitative", "scale": {"domain": [0, 1], "nice": false, "zero": false}, "axis": {"values": [0, 0.527, 1], "labelExpr": "datum.value == 0 ? 'Γ' : (datum.value == 1 ? 'K' : 'Λ')", "labelFlush": false, "labelOverlap": false, "labelPadding": 2, "title": null, "labelFont": {"condition": {"test": "datum.value > 0.1 && datum.value < 0.9", "value": "Liberation Serif"}, "value": "DejaVu Sans"}, "labelFontStyle": {"condition": {"test": "datum.value > 0.9", "value": "italic"}, "value": "normal"}, "labelFontSize": {"condition": {"test": "datum.value > 0.1 && datum.value < 0.9", "value": 16}, "value": 14}}},
  "y": {"field": "y", "type": "quantitative", "scale": {"domain": [-1.5, 2.79], "nice": false, "zero": false}, "axis": {"values": [-1.5, -1, -0.5, 0, 0.5, 1, 1.5, 2, 2.5], "format": ".1f", "labelPadding": 1.5, "title": null}},
  "detail": {"field": "b"}}},
{"width": 316, "height": 302, "title": {"text": "7 layers", "dx": -17, "offset": 12},
 "transform": [{"filter": "datum.l == 7"}], "mark": {"type": "line"},
 "encoding": {
  "x": {"field": "x", "type": "quantitative", "scale": {"domain": [0, 1], "nice": false, "zero": false}, "axis": {"values": [0, 0.527, 1], "labelExpr": "datum.value == 0 ? 'Γ' : (datum.value == 1 ? 'K' : 'Λ')", "labelFlush": false, "labelOverlap": false, "labelPadding": 2, "title": null, "labelFont": {"condition": {"test": "datum.value > 0.1 && datum.value < 0.9", "value": "Liberation Serif"}, "value": "DejaVu Sans"}, "labelFontStyle": {"condition": {"test": "datum.value > 0.9", "value": "italic"}, "value": "normal"}, "labelFontSize": {"condition": {"test": "datum.value > 0.1 && datum.value < 0.9", "value": 16}, "value": 14}}},
  "y": {"field": "y", "type": "quantitative", "scale": {"domain": [-1.5, 2.8], "nice": false, "zero": false}, "axis": {"values": [-1.5, -1, -0.5, 0, 0.5, 1, 1.5, 2, 2.5], "format": ".1f", "labelPadding": 1.5, "title": null}},
  "detail": {"field": "b"}}}
]
}
